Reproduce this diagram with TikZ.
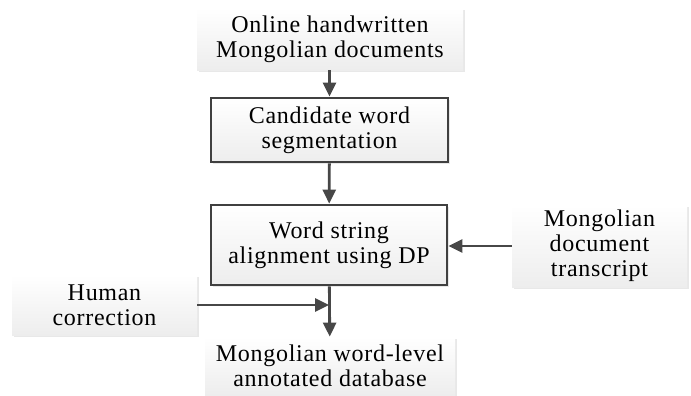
\documentclass[tikz,border=0pt]{standalone}
\usepackage{fontspec}
\setmainfont[LetterSpace=3]{Liberation Serif}
\usetikzlibrary{arrows.meta,shadows}

\begin{document}
\begin{tikzpicture}[
    x=0.5pt, y=-0.5pt, % one unit per pixel of the layout
    > = {Triangle[length=7pt,width=6.5pt]}, % arrow head style
    every node/.style={font=\rmfamily\fontsize{12}{12.5}\selectfont, align=center, inner sep=0pt},
    plain/.style={top color=white, bottom color=gray!14, draw=none,
        drop shadow={shadow xshift=1pt, shadow yshift=-1pt, opacity=0.18}},
    framed/.style={plain, draw=black!75, line width=1.4pt},
    link/.style={->, draw=black!72, line width=1.4pt},
]
\useasboundingbox (0,0) rectangle (691,396);

\node[plain, minimum width=133pt, minimum height=31pt] (docs) at (330,39)
    {Online handwritten\\Mongolian documents};
\node[framed, minimum width=118.5pt, minimum height=32pt] (seg) at (329.5,130)
    {Candidate word\\segmentation};
\node[framed, minimum width=118pt, minimum height=40pt] (align) at (329,245)
    {Word string\\alignment using DP};
\node[plain, minimum width=87.5pt, minimum height=41pt] (trans) at (599.5,246)
    {Mongolian\\document\\transcript};
\node[plain, minimum width=92.5pt, minimum height=30pt] (human) at (104.5,305)
    {Human\\correction};
\node[plain, minimum width=125pt, minimum height=29pt] (db) at (330,366)
    {Mongolian word-level\\annotated database};

\draw[link] (docs.south -| seg.north) -- (seg);
\draw[link] (seg) -- (align);
\draw[link] (trans) -- (align.east |- trans.west);
\draw[link] (align) -- (db);
% correction joins the last arrow
\coordinate (j) at (align.south |- human.east);
\draw[link] (human) -- (j);
\end{tikzpicture}
\end{document}
